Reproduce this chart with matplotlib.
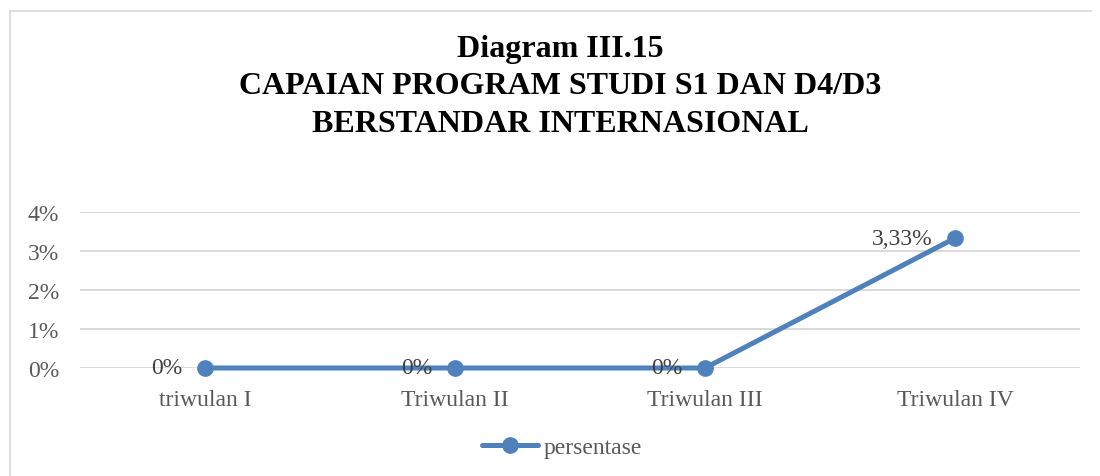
import matplotlib.pyplot as plt
from matplotlib.lines import Line2D
from matplotlib.ticker import FuncFormatter

categories = ['triwulan I', 'Triwulan II', 'Triwulan III', 'Triwulan IV']
persentase = [0, 0, 0, 3.33]
value_labels = ['0%', '0%', '0%', '3,33%']
yticks = [0, 1, 2, 3, 4]

plt.rcParams['font.family'] = 'Liberation Serif'

fig = plt.figure(figsize=(11, 4.77), dpi=100)
ax = fig.add_axes([80 / 1100, 1 - 369 / 477, 1000 / 1100, 156 / 477])

blue = '#4F81BD'
x = list(range(len(categories)))
ax.plot(x, persentase, color=blue, linewidth=3.6, marker='o', markersize=11,
        solid_capstyle='round', zorder=3, clip_on=False, label='persentase')

for xi, yi, lab in zip(x, persentase, value_labels):
    ax.annotate(lab, (xi, yi), xytext=(-16, 0), textcoords='offset points',
                ha='right', va='center', fontsize=17, color='#404040')

ax.set_xlim(-0.5, len(categories) - 0.5)
ax.set_ylim(0, 4)
ax.set_yticks(yticks)
ax.yaxis.set_major_formatter(FuncFormatter(lambda v, p: '%d%%' % v))
ax.set_xticks(x)
ax.set_xticklabels(categories)
ax.tick_params(axis='both', length=0, labelsize=17, labelcolor='#595959')
ax.tick_params(axis='x', pad=15)
ax.tick_params(axis='y', pad=15)
ax.grid(axis='y', color='#D9D9D9', linewidth=1.4)
ax.set_axisbelow(True)
for s in ax.spines.values():
    s.set_visible(False)

fig.text(560 / 1100, 1 - 87 / 477,
         'Diagram III.15\nCAPAIAN PROGRAM STUDI S1 DAN D4/D3\nBERSTANDAR INTERNASIONAL',
         ha='center', va='center', fontsize=23, fontweight='bold',
         linespacing=1.38, color='black')

handle = Line2D([], [], color=blue, linewidth=3.6, marker='o', markersize=11,
                solid_capstyle='round')
fig.legend([handle], ['persentase'], loc='center', bbox_to_anchor=(562 / 1100, 1 - 448 / 477),
           frameon=False, fontsize=17, labelcolor='#595959', handlelength=2.4,
           handletextpad=0.25)

# chart border (left and top)
fig.add_artist(Line2D([10 / 1100, 10 / 1100], [0, 1 - 12 / 477], color='#D9D9D9', linewidth=1.2))
fig.add_artist(Line2D([10 / 1100, 1091 / 1100], [1 - 12 / 477, 1 - 12 / 477], color='#D9D9D9', linewidth=1.2))

fig.savefig('out.png', dpi=100)
